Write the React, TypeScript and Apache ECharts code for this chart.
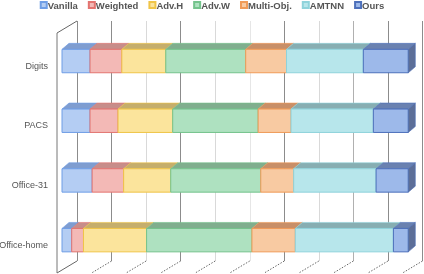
import React, { useEffect, useRef } from "react";
import * as echarts from "echarts";

// ---- data ----
const categories = ["Digits", "PACS", "Office-31", "Office-home"];
const seriesNames = ["Vanilla", "Weighted", "Adv.H", "Adv.W", "Multi-Obj.", "AMTNN", "Ours"];
const vanilla = [8.1, 8.1, 8.7, 2.8];
const weighted = [9.2, 8.1, 9.1, 3.4];
const advH = [12.7, 15.8, 13.6, 18.2];
const advW = [23.1, 24.7, 26.0, 30.4];
const multiObj = [11.8, 9.5, 9.5, 12.5];
const amtnn = [22.2, 23.8, 23.8, 28.3];
const ours = [13.0, 10.1, 9.3, 4.3];
const percentTicks = [0, 10, 20, 30, 40, 50, 60, 70, 80, 90, 100];

// ---- styles ----
const fills = ["#b4cdf3", "#f3b9b6", "#fbe49c", "#aee1c0", "#f8caa2", "#b7e6eb", "#9db9ea"];
const borders = ["#6f9ee6", "#e37470", "#f0c548", "#74c38c", "#f09b58", "#8fd3db", "#4d70bb"];
const tops = ["#7f9dd0", "#c78d8a", "#c5ae6c", "#80ae8e", "#c88f68", "#87aeb2", "#6a81b0"];
const sideColor = "#5c6e98";
const gridColors = ["#8c8c8c", "#8c8c8c", "#d9d9d9", "#8c8c8c", "#d9d9d9", "#e6e6e6", "#8c8c8c", "#d9d9d9", "#b0b0b0", "#8c8c8c", "#8c8c8c"];
const DX = 7;
const DY = -6;
const FONT = "Liberation Sans, Arial, sans-serif";

export default function App() {
  const ref = useRef<HTMLDivElement>(null);
  useEffect(() => {
    if (!ref.current) return;
    const chart = echarts.init(ref.current, undefined, { renderer: "svg" });
    const all = [vanilla, weighted, advH, advW, multiObj, amtnn, ours];
    const totals = categories.map((_, ci) => all.reduce((s, arr) => s + arr[ci], 0));
    const cum = categories.map(() => 0);
    const series: any[] = all.map((arr, si) => {
      const data = categories.map((_, ci) => {
        const start = (cum[ci] / totals[ci]) * 100;
        cum[ci] += arr[ci];
        const end = (cum[ci] / totals[ci]) * 100;
        return [start, end, ci];
      });
      const isLast = si === all.length - 1;
      return {
        type: "custom",
        name: seriesNames[si],
        xAxisIndex: 0,
        yAxisIndex: 0,
        itemStyle: { color: fills[si], borderColor: borders[si], borderWidth: 1 },
        encode: { x: [0, 1], y: 2 },
        data,
        renderItem: (params: any, api: any) => {
          const s = api.value(0);
          const e = api.value(1);
          const c = api.value(2);
          const p1 = api.coord([s, c]);
          const p2 = api.coord([e, c]);
          const h = api.size([0, 1])[1] * 0.392;
          const x1 = p1[0];
          const x2 = p2[0];
          const y1 = p1[1] - h / 2;
          const y2 = p1[1] + h / 2;
          const children: any[] = [
            {
              type: "polygon",
              shape: { points: [[x1, y1], [x2, y1], [x2 + DX, y1 + DY], [x1 + DX, y1 + DY]] },
              style: { fill: tops[si], stroke: borders[si], lineWidth: 0.6 },
            },
            {
              type: "rect",
              shape: { x: x1, y: y1, width: x2 - x1, height: h },
              style: { fill: fills[si], stroke: borders[si], lineWidth: 1 },
            },
          ];
          if (isLast) {
            children.push({
              type: "polygon",
              shape: { points: [[x2, y1], [x2 + DX, y1 + DY], [x2 + DX, y2 + DY], [x2, y2]] },
              style: { fill: sideColor, stroke: borders[si], lineWidth: 0.6 },
            });
          }
          return { type: "group", children };
        },
      };
    });

    chart.setOption({
      animation: false,
      legend: {
        top: 0,
        left: "center",
        padding: [0, 5],
        itemWidth: 6,
        itemHeight: 6,
        itemGap: 10,
        icon: "rect",
        textStyle: { fontSize: 9.5, fontWeight: "bold", color: "#555", fontFamily: FONT, padding: [0, 0, 0, -4] },
        data: seriesNames,
      },
      grid: [
        { left: 62, width: 346.3, top: 31.2, height: 238.8, outerBoundsMode: "none", containLabel: false },
        { left: 77, width: 345.5, top: 21, height: 240, outerBoundsMode: "none", containLabel: false },
      ],
      xAxis: [
        { type: "value", gridIndex: 0, min: 0, max: 100, show: false },
        {
          type: "value",
          gridIndex: 1,
          min: percentTicks[0],
          max: percentTicks[percentTicks.length - 1],
          interval: 10,
          axisLine: { show: false },
          axisTick: { show: false },
          axisLabel: { show: false },
          splitLine: { show: true, lineStyle: { color: gridColors, width: 1 } },
        },
      ],
      yAxis: [
        {
          type: "category",
          gridIndex: 0,
          data: categories,
          inverse: true,
          axisLine: { show: false },
          axisTick: { show: false },
          splitLine: { show: false },
          axisLabel: {
            margin: 14,
            verticalAlign: "top",
            fontSize: 9,
            color: "#555",
            fontFamily: FONT,
          },
        },
        { type: "value", gridIndex: 1, show: false },
      ],
      series,
    });

    // floor / wall decoration derived from the back-wall axis
    const floorY = 261;
    const wallTop = 21;
    const graphics: any[] = [];
    percentTicks.forEach((v, i) => {
      const bx = chart.convertToPixel({ xAxisIndex: 1 }, v) as number;
      graphics.push({
        type: "line",
        shape: { x1: bx, y1: floorY, x2: bx - 20, y2: floorY + 12 },
        style: { stroke: "#666", lineWidth: 1, lineDash: i === 0 ? null : [1.5, 1.5] },
        silent: true,
      });
      if (i === 0) {
        graphics.push({
          type: "line",
          shape: { x1: bx - 20, y1: wallTop + 12, x2: bx - 20, y2: floorY + 12 },
          style: { stroke: "#777", lineWidth: 1 },
          silent: true,
        });
        graphics.push({
          type: "line",
          shape: { x1: bx - 20, y1: wallTop + 12, x2: bx, y2: wallTop },
          style: { stroke: "#666", lineWidth: 1 },
          silent: true,
        });
      }
    });
    chart.setOption({ graphic: graphics });

    return () => chart.dispose();
  }, []);
  return <div ref={ref} style={{ position: "fixed", left: 0, top: 0, width: 424, height: 274 }} />;
}
